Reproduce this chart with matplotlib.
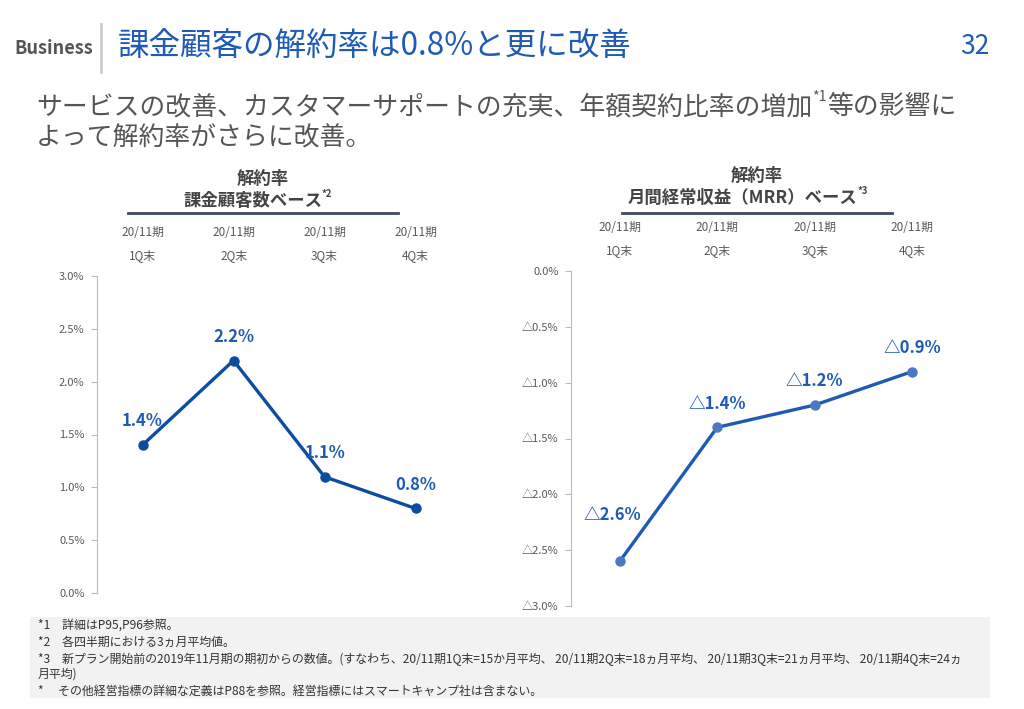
import matplotlib
matplotlib.use('Agg')
from matplotlib import pyplot as plt
from matplotlib.patches import Rectangle
from matplotlib.lines import Line2D

plt.rcParams['font.family'] = ['Noto Sans CJK JP', 'DejaVu Sans']

W, H = 1024, 709

quarters = ['20/11期\n1Q末', '20/11期\n2Q末', '20/11期\n3Q末', '20/11期\n4Q末']
churn_customers = [1.4, 2.2, 1.1, 0.8]
churn_mrr = [-2.6, -1.4, -1.2, -0.9]
left_ticks = [0.0, 0.5, 1.0, 1.5, 2.0, 2.5, 3.0]
right_ticks = [0.0, -0.5, -1.0, -1.5, -2.0, -2.5, -3.0]

blue = '#0B4DA2'
blue_light = '#4A78C4'
gray = '#595959'


def fx(x):
    return x / W


def fy(y):
    return 1 - y / H


def sup_text(x, y, main, sup, size, after='', **kw):
    # main text followed by a small superscript (and optional trailing text)
    t1 = fig.text(x, y, main, fontsize=size, va='center', ha='left', **kw)
    t2 = plt.annotate(sup, xy=(1, 0.62), xycoords=t1, va='bottom', ha='left',
                      fontsize=size * 0.55, annotation_clip=False, **kw)
    if after:
        plt.annotate(after, xy=(1, 0), xycoords=(t2, t1), va='bottom', ha='left',
                     fontsize=size, annotation_clip=False, **kw)
    return t1


fig = plt.figure(figsize=(W / 100, H / 100), dpi=100)

# header
fig.text(fx(14), fy(48), 'Business', fontsize=13, fontweight='bold', color='#555555', va='center')
fig.add_artist(Line2D([fx(101), fx(101)], [fy(24), fy(72)], color='#cccccc', lw=2))
fig.text(fx(118), fy(47), '課金顧客の解約率は0.8%と更に改善', fontsize=22.7, color='#1F5BB5', va='center')
fig.text(fx(990), fy(47), '32', fontsize=19, color='#1F5BB5', va='center', ha='right')


def setup(ax, ticks, labels, ylim):
    ax.set_xlim(-0.5, 3.5)
    ax.set_ylim(*ylim)
    for s in ['top', 'right', 'bottom']:
        ax.spines[s].set_visible(False)
    ax.spines['left'].set_color('#bbbbbb')
    ax.set_yticks(ticks)
    ax.set_yticklabels(labels)
    ax.tick_params(axis='y', colors='#bbbbbb', labelcolor=gray, labelsize=8, length=4, pad=5)
    ax.xaxis.tick_top()
    ax.set_xticks(range(4))
    ax.set_xticklabels(quarters, linespacing=2.0)
    ax.tick_params(axis='x', length=0, labelsize=8.5, labelcolor=gray, pad=10)


# left chart
ax1 = fig.add_axes([fx(97), fy(593), (461 - 97) / W, (593 - 276) / H])
setup(ax1, left_ticks, ['%.1f%%' % t for t in left_ticks], (0, 3.0))
ax1.plot(range(4), churn_customers, color=blue, lw=2.4, marker='o', markersize=6.5)
for i, v in enumerate(churn_customers):
    ax1.annotate('%.1f%%' % v, (i, v), xytext=(0, 17), textcoords='offset points',
                 ha='center', va='center', fontsize=12, fontweight='bold', color='#1F5BB5')

# right chart
ax2 = fig.add_axes([fx(571), fy(606), (961 - 571) / W, (606 - 271) / H])
setup(ax2, right_ticks, ['0.0%'] + ['△%.1f%%' % -t for t in right_ticks[1:]], (-3.0, 0))
ax2.plot(range(4), churn_mrr, color='#1F5BB5', lw=2.4, marker='o', markersize=6.5,
         markerfacecolor=blue_light, markeredgecolor=blue_light)
for i, v in enumerate(churn_mrr):
    off = 33 if i == 0 else 17
    dx = -5 if i == 0 else 0
    ax2.annotate('△%.1f%%' % -v, (i, v), xytext=(dx, off), textcoords='offset points',
                 ha='center', va='center', fontsize=12, fontweight='bold', color='#1F5BB5')

# subtitle
sup_text(fx(36), fy(107), 'サービスの改善、カスタマーサポートの充実、年額契約比率の増加', '*1', 18.6,
         after='等の影響に', color='#555555')
fig.text(fx(36), fy(138), 'よって解約率がさらに改善。', fontsize=18.6, color='#555555', va='center')

# chart headers
fig.text(fx(263), fy(179), '解約率', fontsize=12.5, fontweight='bold', color='#444444', ha='center', va='center')
sup_text(fx(183), fy(201), '課金顧客数ベース', '*2', 12.5, fontweight='bold', color='#444444')
fig.add_artist(Line2D([fx(128), fx(398)], [fy(213), fy(213)], color='#3F4A5C', lw=2))

fig.text(fx(757), fy(176), '解約率', fontsize=12.5, fontweight='bold', color='#444444', ha='center', va='center')
sup_text(fx(628), fy(198), '月間経常収益（MRR）ベース', '*3', 12.5, fontweight='bold', color='#444444')
fig.add_artist(Line2D([fx(622), fx(892)], [fy(213), fy(213)], color='#3F4A5C', lw=2))

# footnotes
fig.add_artist(Rectangle((fx(30), fy(698)), (990 - 30) / W, (698 - 617) / H,
                         facecolor='#F2F2F2', edgecolor='none', zorder=-1))
notes = [
    (625, '*1　詳細はP95,P96参照。'),
    (642, '*2　各四半期における3ヵ月平均値。'),
    (659, '*3　新プラン開始前の2019年11月期の期初からの数値。(すなわち、20/11期1Q末=15か月平均、 20/11期2Q末=18ヵ月平均、 20/11期3Q末=21ヵ月平均、 20/11期4Q末=24ヵ'),
    (674, '月平均)'),
    (691, '*　 その他経営指標の詳細な定義はP88を参照。経営指標にはスマートキャンプ社は含まない。'),
]
for y, t in notes:
    fig.text(fx(38), fy(y), t, fontsize=8.6, color='#333333', va='center')

fig.savefig('out.png', dpi=100)
